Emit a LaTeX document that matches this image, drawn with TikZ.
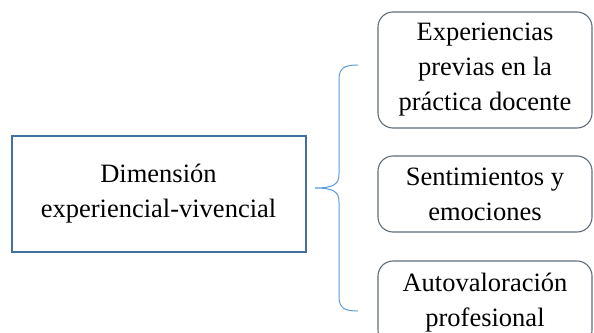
\documentclass[tikz,border=0pt]{standalone}
\usepackage{fontspec}
\setmainfont{Liberation Serif}
\definecolor{dimblue}{HTML}{41719C}
\definecolor{braceblue}{HTML}{5B9BD5}
\definecolor{boxgray}{HTML}{5F6B78}

\begin{document}
\begin{tikzpicture}[x=1pt,y=-1pt,
  txt/.style={font=\fontsize{26.5}{35}\selectfont,align=center,inner sep=0pt},
  dimbox/.style={txt,draw=dimblue,line width=2pt,minimum width=294pt,minimum height=116pt},
  subbox/.style={txt,draw=boxgray,line width=1.1pt,rounded corners=15pt,minimum width=214pt}]
  \useasboundingbox (0,0) rectangle (594,332);
  \node[dimbox] (dim) at (158.5,193.5) {Dimensión\\experiencial-vivencial};
  \foreach \n/\y/\h/\t in
  {
    a/70/116/{Experiencias\\previas en la\\práctica docente},
    b/194/76/{Sentimientos y\\emociones},
    c/303/84/{Autovaloración\\profesional}%
  }
  {
    \node[subbox,minimum height=\h pt] (\n) at (485,\y) {\t};
  }
  % brace
  \coordinate (tip) at (315,188);
  \coordinate (top) at (358,65);
  \coordinate (bot) at (358,311);
  \draw[braceblue,line width=1pt]
    (top) .. controls (344,65) and (339,68) .. (339,80) -- (339,174)
    .. controls (339,184) and (334,188) .. (tip)
    .. controls (334,188) and (339,192) .. (339,202) -- (339,296)
    .. controls (339,308) and (344,311) .. (bot);
\end{tikzpicture}
\end{document}
